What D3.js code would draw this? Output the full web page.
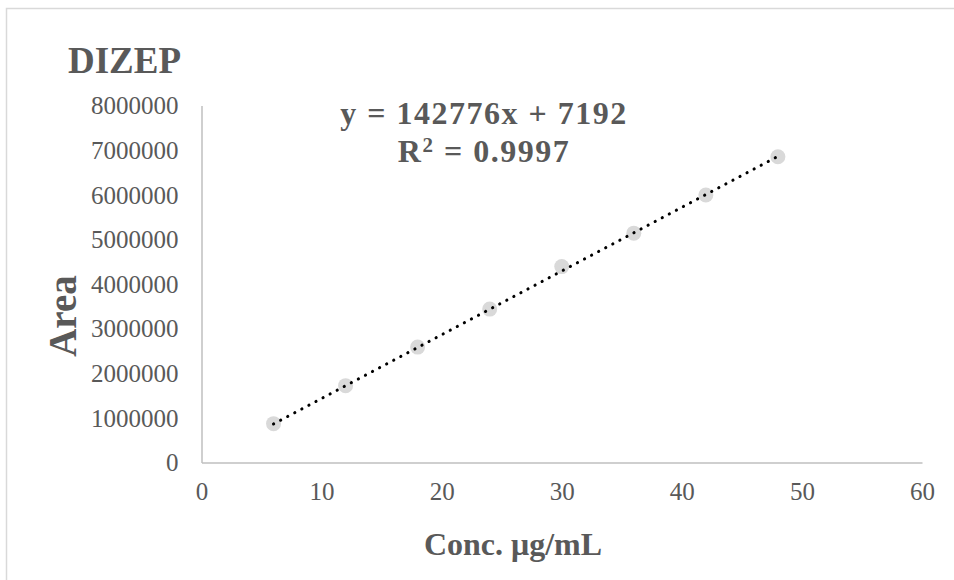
<!DOCTYPE html>
<html>
<head>
<meta charset="utf-8">
<script src="https://cdn.jsdelivr.net/npm/d3@7"></script>
<style>
  html, body { margin: 0; padding: 0; background: #fff; }
  svg { display: block; }
  text { font-family: "Liberation Serif", "Times New Roman", serif; fill: #595959; }
</style>
</head>
<body>
<svg id="chart" width="954" height="580"></svg>
<script>
// Calibration data: concentration (µg/mL) vs peak area
const concentrations = [6, 12, 18, 24, 30, 36, 42, 48];
const areas = [870000, 1722000, 2586000, 3438000, 4390000, 5140000, 5995000, 6852000];

// Linear fit reported on the chart
const slope = 142776;
const intercept = 7192;
const rSquared = 0.9997;

const xTicks = [0, 10, 20, 30, 40, 50, 60];
const yTicks = [0, 1000000, 2000000, 3000000, 4000000, 5000000, 6000000, 7000000, 8000000];

const svg = d3.select("#chart");

// Chart frame
svg.append("rect")
  .attr("x", 6.5).attr("y", 8.5)
  .attr("width", 970).attr("height", 600)
  .attr("fill", "none")
  .attr("stroke", "#d9d9d9")
  .attr("stroke-width", 1.5);

const x = d3.scaleLinear().domain([0, 60]).range([201.5, 922]);
const y = d3.scaleLinear().domain([0, 8000000]).range([462.5, 105.5]);

// Axes
const xAxis = svg.append("g")
  .attr("transform", `translate(0,${y(0)})`)
  .call(d3.axisBottom(x).tickValues(xTicks).tickSize(0).tickPadding(22).tickFormat(d3.format("d")));
const yAxis = svg.append("g")
  .attr("transform", `translate(${x(0)},0)`)
  .call(d3.axisLeft(y).tickValues(yTicks).tickSize(0).tickPadding(23).tickFormat(d3.format("d")));

[xAxis, yAxis].forEach(g => {
  g.select(".domain").attr("stroke", "#bfbfbf").attr("stroke-width", 1.5);
  g.selectAll("text")
    .attr("fill", "#595959")
    .style("font-family", '"Liberation Serif", serif')
    .style("font-size", "25px");
});
xAxis.selectAll("text").attr("dy", "0.71em").attr("y", 20);
yAxis.selectAll("text").attr("dy", "0.33em");

// Data markers
svg.append("g")
  .selectAll("circle")
  .data(concentrations.map((c, i) => ({ c, a: areas[i] })))
  .join("circle")
  .attr("cx", d => x(d.c))
  .attr("cy", d => y(d.a))
  .attr("r", 7.5)
  .attr("fill", "#d9d9d9");

// Dotted linear trendline over the data range
const xMin = d3.min(concentrations), xMax = d3.max(concentrations);
svg.append("line")
  .attr("x1", x(xMin)).attr("y1", y(slope * xMin + intercept))
  .attr("x2", x(xMax)).attr("y2", y(slope * xMax + intercept))
  .attr("stroke", "#000")
  .attr("stroke-width", 3)
  .attr("stroke-linecap", "round")
  .attr("stroke-dasharray", "0.1 7.9");

// Title
svg.append("text")
  .attr("x", 68).attr("y", 73)
  .style("font-size", "37px").style("font-weight", "bold")
  .text("DIZEP");

// Trendline equation and R²
svg.append("text")
  .attr("x", 484).attr("y", 124)
  .attr("text-anchor", "middle")
  .style("font-size", "32px").style("font-weight", "bold")
  .style("letter-spacing", "1.5px")
  .text(`y = ${slope}x + ${intercept}`);

const r2 = svg.append("text")
  .attr("x", 484).attr("y", 162)
  .attr("text-anchor", "middle")
  .style("font-size", "32px").style("font-weight", "bold")
  .style("letter-spacing", "1.5px");
r2.append("tspan").text("R");
r2.append("tspan").attr("dy", -10).style("font-size", "21px").text("2");
r2.append("tspan").attr("dy", 10).text(` = ${rSquared}`);

// Axis titles
svg.append("text")
  .attr("transform", "translate(76,316) rotate(-90)")
  .attr("text-anchor", "middle")
  .style("font-size", "39px").style("font-weight", "bold")
  .text("Area");

svg.append("text")
  .attr("x", 513).attr("y", 555)
  .attr("text-anchor", "middle")
  .style("font-size", "32px").style("font-weight", "bold")
  .text("Conc. μg/mL");
</script>
</body>
</html>
